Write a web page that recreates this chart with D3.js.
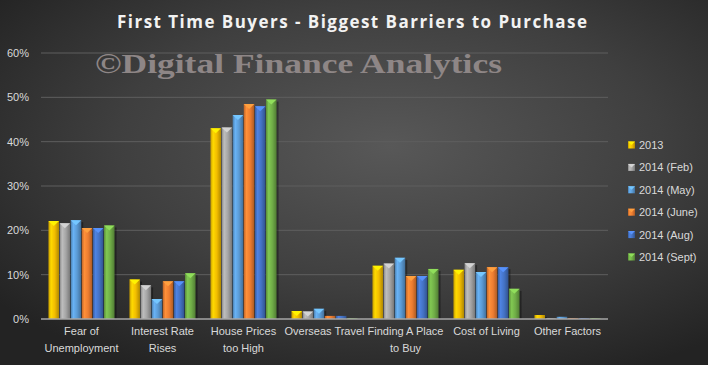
<!DOCTYPE html>
<html>
<head>
<meta charset="utf-8">
<script src="https://cdn.jsdelivr.net/npm/d3@7"></script>
<style>
  body { margin: 0; background: #333; }
  svg { display: block; }
</style>
</head>
<body>
<div id="chart"></div>
<script>
const categories = [
    ["Fear of", "Unemployment"],
    ["Interest Rate", "Rises"],
    ["House Prices", "too High"],
    ["Overseas Travel"],
    ["Finding A Place", "to Buy"],
    ["Cost of Living"],
    ["Other Factors"]
]
const seriesNames = ["2013", "2014 (Feb)", "2014 (May)", "2014 (June)", "2014 (Aug)", "2014 (Sept)"]
const s2013 = [22.1, 8.9, 43.0, 1.8, 12.0, 11.1, 0.9]
const sFeb  = [21.6, 7.6, 43.2, 1.7, 12.5, 12.6, 0.2]
const sMay  = [22.3, 4.5, 46.0, 2.3, 13.8, 10.6, 0.5]
const sJune = [20.5, 8.5, 48.5, 0.7, 9.7, 11.7, 0.2]
const sAug  = [20.5, 8.5, 48.0, 0.7, 9.7, 11.7, 0.2]
const sSept = [21.1, 10.3, 49.5, 0.2, 11.3, 6.8, 0.2]
const yTicks = [0, 10, 20, 30, 40, 50, 60]

const allSeries = [s2013, sFeb, sMay, sJune, sAug, sSept]
const colors = ["#f2bd00", "#a5a5a5", "#5b9bd5", "#ed7d31", "#4472c4", "#70ad47"]

const W = 708, H = 365
const margin = {top: 53, right: 100, bottom: 46, left: 41}

const svg = d3.select("#chart").append("svg")
    .attr("width", W)
    .attr("height", H)

const defs = svg.append("defs")
const bg = defs.append("radialGradient").attr("id", "bg")
    .attr("cx", "55%").attr("cy", "40%").attr("r", "70%")
bg.append("stop").attr("offset", "0%").attr("stop-color", "#585858")
bg.append("stop").attr("offset", "55%").attr("stop-color", "#3f3f3f")
bg.append("stop").attr("offset", "100%").attr("stop-color", "#232323")

// bevel gradient per series
colors.forEach((c, i) => {
    const g = defs.append("linearGradient").attr("id", "bar" + i)
        .attr("x1", "0%").attr("x2", "100%")
    const base = d3.color(c)
    g.append("stop").attr("offset", "0%").attr("stop-color", base.darker(0.6))
    g.append("stop").attr("offset", "25%").attr("stop-color", base.brighter(0.4))
    g.append("stop").attr("offset", "60%").attr("stop-color", base)
    g.append("stop").attr("offset", "100%").attr("stop-color", base.darker(0.9))
})

svg.append("rect").attr("width", W).attr("height", H).attr("fill", "url(#bg)")

const x0 = d3.scaleBand()
    .domain(d3.range(categories.length))
    .range([margin.left, W - margin.right])
    .paddingInner(0.17)
    .paddingOuter(0.085)

const x1 = d3.scaleBand()
    .domain(d3.range(seriesNames.length))
    .range([0, x0.bandwidth()])
    .padding(0.05)

const y = d3.scaleLinear()
    .domain([0, 60])
    .range([H - margin.bottom, margin.top])

// gridlines
svg.append("g")
    .selectAll("line")
    .data(yTicks.slice(1))
    .join("line")
    .attr("x1", margin.left).attr("x2", W - margin.right)
    .attr("y1", d => y(d)).attr("y2", d => y(d))
    .attr("stroke", "#5e5e5e")
    .attr("stroke-width", 1)

// y labels
svg.append("g")
    .selectAll("text")
    .data(yTicks)
    .join("text")
    .attr("x", 29)
    .attr("y", d => y(d) + 4)
    .attr("text-anchor", "end")
    .attr("fill", "#d9d9d9")
    .style("font", "11px 'Liberation Sans', Arial, sans-serif")
    .text(d => d + "%")

// title
svg.append("text")
    .attr("x", 352).attr("y", 28)
    .attr("text-anchor", "middle")
    .attr("fill", "#f2f2f2")
    .attr("textLength", 470)
    .attr("lengthAdjust", "spacing")
    .style("font", "bold 17px 'Open Sans', sans-serif")
    .text("First Time Buyers - Biggest Barriers to Purchase")

// watermark
svg.append("text")
    .attr("x", 95).attr("y", 73)
    .attr("fill", "#8e8686")
    .attr("textLength", 407)
    .attr("lengthAdjust", "spacingAndGlyphs")
    .style("font", "bold 27px 'Liberation Serif', 'Times New Roman', serif")
    .text("\u00a9Digital Finance Analytics")

// bars
const rows = categories.map((c, i) => allSeries.map((s, j) => ({cat: i, ser: j, v: s[i]})))

const groups = svg.append("g")
    .selectAll("g")
    .data(rows)
    .join("g")
    .attr("transform", (d, i) => `translate(${x0(i)},0)`)

const bw = x1.bandwidth()

// shadow
groups.selectAll("rect.shadow")
    .data(d => d)
    .join("rect")
    .attr("class", "shadow")
    .attr("x", d => x1(d.ser) + 2)
    .attr("y", d => y(d.v) + 2)
    .attr("width", bw)
    .attr("height", d => y(0) - y(d.v) - 2)
    .attr("fill", "#000")
    .attr("opacity", 0.35)

groups.selectAll("rect.bar")
    .data(d => d)
    .join("rect")
    .attr("class", "bar")
    .attr("x", d => x1(d.ser))
    .attr("y", d => y(d.v))
    .attr("width", bw)
    .attr("height", d => y(0) - y(d.v))
    .attr("fill", d => `url(#bar${d.ser})`)

// bevel cap
groups.selectAll("path.cap")
    .data(d => d.filter(e => y(0) - y(e.v) > 4))
    .join("path")
    .attr("class", "cap")
    .attr("d", d => {
        const bx = x1(d.ser), by = y(d.v)
        return `M${bx},${by}L${bx + bw},${by}L${bx + bw / 2},${by + 5}Z`
    })
    .attr("fill", d => d3.color(colors[d.ser]).brighter(0.7))

// axis line
svg.append("line")
    .attr("x1", margin.left).attr("x2", W - margin.right)
    .attr("y1", y(0)).attr("y2", y(0))
    .attr("stroke", "#a6a6a6")
    .attr("stroke-width", 1.5)

// x labels
svg.append("g")
    .selectAll("text")
    .data(categories)
    .join("text")
    .attr("text-anchor", "middle")
    .attr("fill", "#d9d9d9")
    .style("font", "11px 'Liberation Sans', Arial, sans-serif")
    .attr("transform", (d, i) => `translate(${x0(i) + x0.bandwidth() / 2},${y(0) + 16})`)
    .selectAll("tspan")
    .data(d => d)
    .join("tspan")
    .attr("x", 0)
    .attr("dy", (d, i) => i === 0 ? 0 : 17)
    .text(d => d)

// legend
const legend = svg.append("g")
    .selectAll("g")
    .data(seriesNames)
    .join("g")
    .attr("transform", (d, i) => `translate(628,${145 + i * 22.4})`)

legend.append("rect")
    .attr("x", 0).attr("y", -3.5)
    .attr("width", 7).attr("height", 7)
    .attr("fill", (d, i) => `url(#bar${i})`)
legend.append("path")
    .attr("d", "M0,-3.5L7,-3.5L3.5,0Z")
    .attr("fill", (d, i) => d3.color(colors[i]).brighter(0.7))

legend.append("text")
    .attr("x", 11).attr("y", 4)
    .attr("fill", "#d9d9d9")
    .style("font", "11px 'Liberation Sans', Arial, sans-serif")
    .text(d => d)
</script>
</body>
</html>
